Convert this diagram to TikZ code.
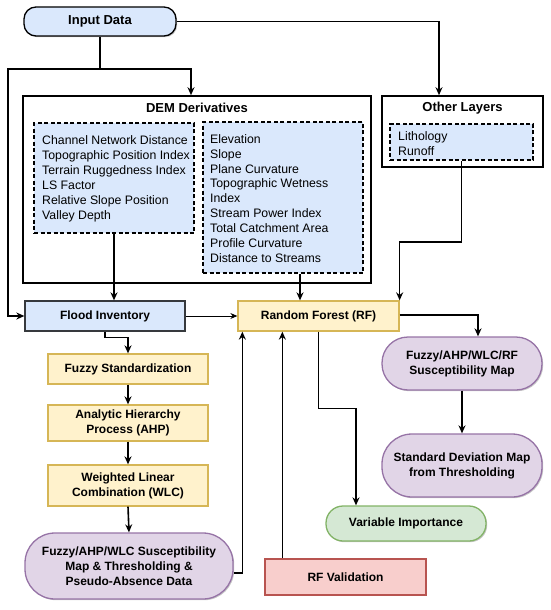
\documentclass[tikz,border=0pt]{standalone}
\usepackage{fontspec}
\setmainfont{Liberation Sans}
\usetikzlibrary{arrows.meta,shadows}
\definecolor{bluef}{HTML}{DAE8FC}
\definecolor{yelf}{HTML}{FFF2CC}
\definecolor{yeld}{HTML}{D6B656}
\definecolor{purf}{HTML}{E1D5E7}
\definecolor{purd}{HTML}{9673A6}
\definecolor{grnf}{HTML}{D5E8D4}
\definecolor{grnd}{HTML}{82B366}
\definecolor{redf}{HTML}{F8CECC}
\definecolor{redd}{HTML}{B85450}
\definecolor{darkd}{HTML}{36393D}
\tikzset{
  shad/.style={drop shadow={shadow xshift=1.2pt,shadow yshift=-1.2pt,opacity=0.22,fill=black}},
  box/.style={draw,line width=1.3pt,inner sep=0pt,align=center,
    font=\fontsize{12}{15}\selectfont\bfseries,shad},
  bluebox/.style={box,fill=bluef,draw=darkd},
  yellowbox/.style={box,fill=yelf,draw=yeld},
  purplebox/.style={box,fill=purf,draw=purd},
  greenbox/.style={box,fill=grnf,draw=grnd},
  redbox/.style={box,fill=redf,draw=redd},
  groupbox/.style={draw,line width=1.6pt,fill=white,inner sep=0pt,shad},
  dashbox/.style={draw,dash pattern=on 4pt off 2.5pt,line width=1.5pt,fill=bluef,inner sep=0pt},
  titletext/.style={font=\fontsize{13}{15}\selectfont\bfseries,inner sep=0pt},
  listtext/.style={font=\fontsize{12.3}{14.9}\selectfont,align=left,inner sep=0pt,anchor=west},
  conn/.style={line width=1.6pt,-{Stealth[length=8pt,width=7pt]}},
  plain/.style={line width=1.6pt},
  thinconn/.style={line width=1pt,-{Stealth[length=7pt,width=6pt]}},
}
\begin{document}
\begin{tikzpicture}[x=1pt,y=-1pt]
\useasboundingbox (0,0) rectangle (550,610);

% group boxes
\node[groupbox,minimum width=348pt,minimum height=187pt] (dem) at (197,189.5) {};
\node[titletext] (demt) at (197,108) {DEM Derivatives};
\node[dashbox,minimum width=160pt,minimum height=110pt] (demL) at (114,178) {};
\node[listtext] (demLt) at (42,179) {Channel Network Distance\\Topographic Position Index\\Terrain Ruggedness Index\\LS Factor\\Relative Slope Position\\Valley Depth};
\node[dashbox,minimum width=160pt,minimum height=151pt] (demR) at (283,197.5) {};
\node[listtext] (demRt) at (210,198.5) {Elevation\\Slope\\Plane Curvature\\Topographic Wetness\\Index\\Stream Power Index\\Total Catchment Area\\Profile Curvature\\Distance to Streams};

\node[groupbox,minimum width=161pt,minimum height=71pt] (other) at (462.5,131.5) {};
\node[titletext] (othert) at (462.5,108) {Other Layers};
\node[dashbox,minimum width=143pt,minimum height=36pt] (othL) at (461.5,142) {};
\node[listtext] (othLt) at (398,144) {Lithology\\Runoff};

% process nodes
\node[bluebox,draw=black,rounded corners=12pt,minimum width=152pt,minimum height=29pt,
      font=\fontsize{13}{15}\selectfont\bfseries] (input) at (100,21.5) {Input Data};
\node[bluebox,minimum width=160pt,minimum height=30pt] (flood) at (105,316) {Flood Inventory};
\node[yellowbox,minimum width=161pt,minimum height=30pt] (rf) at (318.5,316) {Random Forest (RF)};
\node[yellowbox,minimum width=160pt,minimum height=30pt] (fuzzy) at (128,369) {Fuzzy Standardization};
\node[yellowbox,minimum width=160pt,minimum height=36pt] (ahp) at (128,423) {Analytic Hierarchy\\Process (AHP)};
\node[yellowbox,minimum width=160pt,minimum height=41pt] (wlc) at (128,485.5) {Weighted Linear\\Combination (WLC)};
\node[purplebox,rounded corners=30pt,minimum width=208pt,minimum height=66pt] (pur1) at (129,566)
  {Fuzzy/AHP/WLC Susceptibility\\Map \& Thresholding \&\\Pseudo-Absence Data};
\node[redbox,minimum width=161pt,minimum height=36pt] (rfval) at (345.5,577) {RF Validation};
\node[greenbox,rounded corners=17pt,minimum width=160pt,minimum height=35pt] (varimp) at (406,523.5) {Variable Importance};
\node[purplebox,rounded corners=26pt,minimum width=160pt,minimum height=53pt] (pur2) at (462,363.5) {Fuzzy/AHP/WLC/RF\\Susceptibility Map};
\node[purplebox,rounded corners=30pt,minimum width=160pt,minimum height=63pt] (pur3) at (462,465.5) {Standard Deviation Map\\from Thresholding};

% connectors
\coordinate (j1) at (100,69);
\coordinate (j2) at (8,69);
\draw[plain] (input.south) -- (j1);
\draw[conn] (j1) -| ([xshift=-6pt]dem.north);
\draw[conn] (j1) -- (j2) |- (flood.west);
\draw[conn] (input.east) -| ([xshift=-23.5pt]other.north);
\draw[conn] (demL.south) -- (demL.south |- flood.north);
\draw[conn] ([xshift=17pt]demR.south) -- ([xshift=17pt]demR.south |- rf.north);
\draw[conn] (othL.south) -- ++(0,81) -| (rf.north east);
\draw[thinconn] (flood.east) -- (rf.west);
\draw[conn] (flood.south) -- ++(0,6) -| (fuzzy.north);
\draw[conn] (fuzzy.south) -- (ahp.north);
\draw[conn] (ahp.south) -- (wlc.north);
\draw[conn] (wlc.south) -- (pur1.north);
\draw[conn] ([yshift=-7pt]pur1.east) -| ([xshift=5pt]rf.south west);
\draw[conn] ([xshift=18pt]rfval.north west) -- ([xshift=18pt]rfval.north west |- rf.south);
\draw[conn] (rf.south) -- ++(0,77) -| ([xshift=-50pt]varimp.north);
\draw[conn] ([yshift=1pt]rf.east) -| ([xshift=16pt]pur2.north);
\draw[conn] (pur2.south) -- (pur3.north);
\end{tikzpicture}
\end{document}
